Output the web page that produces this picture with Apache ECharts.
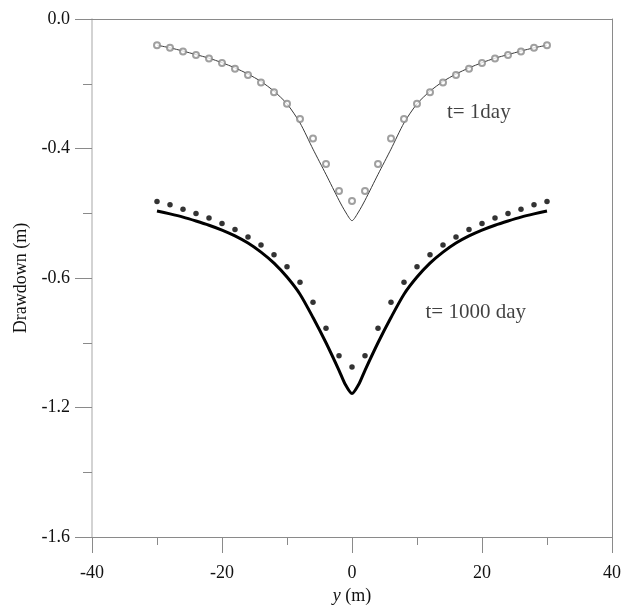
<!DOCTYPE html>
<html>
<head>
<meta charset="utf-8">
<script src="https://cdn.jsdelivr.net/npm/echarts@6/dist/echarts.min.js"></script>
<style>html,body{margin:0;padding:0;background:#fff;}#c{width:629px;height:610px;}</style>
</head>
<body>
<div id="c"></div>
<script>
// ---- data ----
var ptX = [-30,-28,-26,-24,-22,-20,-18,-16,-14,-12,-10,-8,-6,-4,-2,0,2,4,6,8,10,12,14,16,18,20,22,24,26,28,30];
var obs1 = [-0.081,-0.089,-0.100,-0.111,-0.122,-0.136,-0.154,-0.173,-0.196,-0.226,-0.262,-0.309,-0.369,-0.448,-0.531,-0.562,-0.531,-0.448,-0.369,-0.309,-0.262,-0.226,-0.196,-0.173,-0.154,-0.136,-0.122,-0.111,-0.100,-0.089,-0.081];
var obs1000 = [-0.564,-0.574,-0.588,-0.601,-0.615,-0.632,-0.650,-0.673,-0.698,-0.728,-0.765,-0.813,-0.875,-0.955,-1.040,-1.075,-1.040,-0.955,-0.875,-0.813,-0.765,-0.728,-0.698,-0.673,-0.650,-0.632,-0.615,-0.601,-0.588,-0.574,-0.564];
var lineX = [-30,-28,-26,-24,-22,-20,-18,-16,-14,-12,-10,-8,-6,-4,-2,-1,0,1,2,4,6,8,10,12,14,16,18,20,22,24,26,28,30];
var line1 = [-0.081,-0.089,-0.099,-0.110,-0.121,-0.135,-0.151,-0.170,-0.193,-0.223,-0.262,-0.321,-0.402,-0.480,-0.560,-0.596,-0.623,-0.596,-0.560,-0.480,-0.402,-0.321,-0.262,-0.223,-0.193,-0.170,-0.151,-0.135,-0.121,-0.110,-0.099,-0.089,-0.081];
var line1000 = [-0.593,-0.602,-0.612,-0.624,-0.637,-0.652,-0.670,-0.692,-0.720,-0.754,-0.797,-0.850,-0.922,-1.000,-1.085,-1.130,-1.157,-1.130,-1.085,-1.000,-0.922,-0.850,-0.797,-0.754,-0.720,-0.692,-0.670,-0.652,-0.637,-0.624,-0.612,-0.602,-0.593];
var yTickValues = [0, -0.4, -0.8, -1.2, -1.6];
var yTickLabels = ['0.0', '-0.4', '-0.6', '-1.2', '-1.6'];
var xTickValues = [-40, -20, 0, 20, 40];
var xTickLabels = ['-40', '-20', '0', '20', '40'];
var annotText = ['t= 1day', 't= 1000 day'];
var annotX = [14.6, 11.3];
var annotY = [-0.288, -0.906];

function pairs(xs, ys) { return xs.map(function (x, i) { return [x, ys[i]]; }); }
function lookup(vals, labels, v) {
  for (var i = 0; i < vals.length; i++) { if (Math.abs(vals[i] - v) < 1e-6) return labels[i]; }
  return '';
}

var FONT = "'Liberation Serif','Times New Roman',serif";
var chart = echarts.init(document.getElementById('c'), null, {renderer: 'canvas'});
var axisGrey = '#8a8a8a';
chart.setOption({
  animation: false,
  backgroundColor: '#fff',
  grid: {left: 92, right: 17, top: 19, bottom: 71, containLabel: false},
  xAxis: [{
    type: 'value', min: -40, max: 40, interval: 20, position: 'bottom',
    name: '{i|y} (m)', nameLocation: 'middle', nameGap: 50,
    nameTextStyle: {fontFamily: FONT, fontSize: 18, color: '#111',
      rich: {i: {fontStyle: 'italic', fontFamily: FONT, fontSize: 18, color: '#111'}}},
    axisLine: {show: true, onZero: false, lineStyle: {color: axisGrey, width: 1}},
    axisTick: {show: true, length: 16, lineStyle: {color: axisGrey}},
    minorTick: {show: true, splitNumber: 2, length: 8, lineStyle: {color: axisGrey}},
    axisLabel: {fontFamily: FONT, fontSize: 18, color: '#111', margin: 27,
      formatter: function (v) { return lookup(xTickValues, xTickLabels, v); }},
    splitLine: {show: false}
  }, {
    type: 'value', min: -40, max: 40, position: 'top',
    axisLine: {show: true, onZero: false, lineStyle: {color: axisGrey, width: 1}},
    axisTick: {show: false}, axisLabel: {show: false}, splitLine: {show: false}
  }],
  yAxis: [{
    type: 'value', min: -1.6, max: 0, interval: 0.4, position: 'left',
    name: 'Drawdown (m)', nameLocation: 'middle', nameGap: 58,
    nameTextStyle: {fontFamily: FONT, fontSize: 18, color: '#111'},
    axisLine: {show: true, onZero: false, lineStyle: {color: '#c4c4c4', width: 1.5}},
    axisTick: {show: true, length: 17, lineStyle: {color: axisGrey}},
    minorTick: {show: true, splitNumber: 2, length: 9, lineStyle: {color: axisGrey}},
    axisLabel: {fontFamily: FONT, fontSize: 18, color: '#111', margin: 22,
      formatter: function (v) { return lookup(yTickValues, yTickLabels, v); }},
    splitLine: {show: false}
  }, {
    type: 'value', min: -1.6, max: 0, position: 'right',
    axisLine: {show: true, onZero: false, lineStyle: {color: axisGrey, width: 1}},
    axisTick: {show: false}, axisLabel: {show: false}, splitLine: {show: false}
  }],
  series: [
    {type: 'line', data: pairs(lineX, line1), showSymbol: false, symbol: 'none', smooth: 0.25,
      lineStyle: {color: '#3a3a3a', width: 1}, silent: true, z: 3},
    {type: 'scatter', data: pairs(ptX, obs1), symbol: 'emptyCircle', symbolSize: 6,
      itemStyle: {color: '#888', borderColor: '#888', borderWidth: 1}, silent: true, z: 4},
    {type: 'line', data: pairs(lineX, line1000), showSymbol: false, symbol: 'none', smooth: 0.25,
      lineStyle: {color: '#000', width: 3}, silent: true, z: 3},
    {type: 'scatter', data: pairs(ptX, obs1000), symbol: 'circle', symbolSize: 5.5,
      itemStyle: {color: '#000'}, silent: true, z: 4},
    {type: 'scatter', data: annotText.map(function (t, i) { return {value: [annotX[i], annotY[i]], name: t}; }),
      symbolSize: 0, silent: true,
      label: {show: true, position: 'right', distance: 0, formatter: '{b}',
        fontFamily: FONT, fontSize: 21, color: '#111'}}
  ]
});
</script>
</body>
</html>
